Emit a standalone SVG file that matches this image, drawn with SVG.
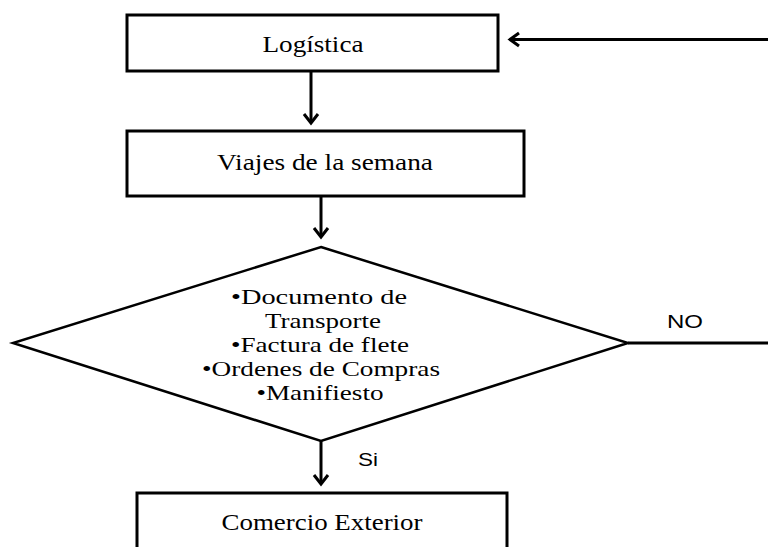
<svg xmlns="http://www.w3.org/2000/svg" width="768" height="547" viewBox="0 0 768 547">
<defs>
<style>
.box{fill:#fff;stroke:#000;stroke-width:3}
.dia{fill:#fff;stroke:#000;stroke-width:2.5}
.ln{fill:none;stroke:#000;stroke-width:3}
.hd{fill:none;stroke:#000;stroke-width:3;stroke-linejoin:miter}
.t{font-family:"Liberation Serif","Times New Roman",serif;fill:#000;text-anchor:middle}
.s{font-family:"Liberation Sans",Arial,sans-serif;fill:#000;text-anchor:middle;font-size:18px}
</style>
</defs>
<rect width="768" height="547" fill="#fff"/>
<g id="logistica">
<rect class="box" x="127" y="15" width="371" height="56"/>
<text class="t" x="313" y="52" font-size="24" textLength="101" lengthAdjust="spacingAndGlyphs">Logística</text>
</g>
<g id="viajes">
<rect class="box" x="127" y="131" width="397" height="65"/>
<text class="t" x="325" y="170" font-size="24" textLength="216" lengthAdjust="spacingAndGlyphs">Viajes de la semana</text>
</g>
<g id="decision">
<polygon class="dia" points="321,247 628,343 321,441 13,343"/>
<text class="t" x="319" y="304" font-size="21" textLength="176" lengthAdjust="spacingAndGlyphs">•Documento de</text>
<text class="t" x="323" y="328" font-size="21" textLength="116" lengthAdjust="spacingAndGlyphs">Transporte</text>
<text class="t" x="320" y="352" font-size="21" textLength="178" lengthAdjust="spacingAndGlyphs">•Factura de flete</text>
<text class="t" x="321" y="376" font-size="21" textLength="238" lengthAdjust="spacingAndGlyphs">•Ordenes de Compras</text>
<text class="t" x="320" y="400" font-size="21" textLength="127" lengthAdjust="spacingAndGlyphs">•Manifiesto</text>
</g>
<g id="comercio">
<rect class="box" x="137" y="493" width="370" height="70"/>
<text class="t" x="322" y="530" font-size="24" textLength="201" lengthAdjust="spacingAndGlyphs">Comercio Exterior</text>
</g>
<g id="connectors">
<line class="ln" x1="311" y1="71" x2="311" y2="123"/>
<polyline class="hd" points="304,114 311,123 318,114"/>
<line class="ln" x1="321" y1="196" x2="321" y2="237"/>
<polyline class="hd" points="314,228 321,237 328,228"/>
<line class="ln" x1="321" y1="441" x2="321" y2="484"/>
<polyline class="hd" points="314,475 321,484 328,475"/>
<line class="ln" x1="628" y1="343" x2="768" y2="343"/>
<line class="ln" x1="510" y1="39.5" x2="768" y2="39.5"/>
<polyline class="hd" points="519,33 510,39.5 519,46"/>
<text class="s" x="685" y="328" textLength="36" lengthAdjust="spacingAndGlyphs">NO</text>
<text class="s" x="368" y="466" textLength="20" lengthAdjust="spacingAndGlyphs">Si</text>
</g>
</svg>
